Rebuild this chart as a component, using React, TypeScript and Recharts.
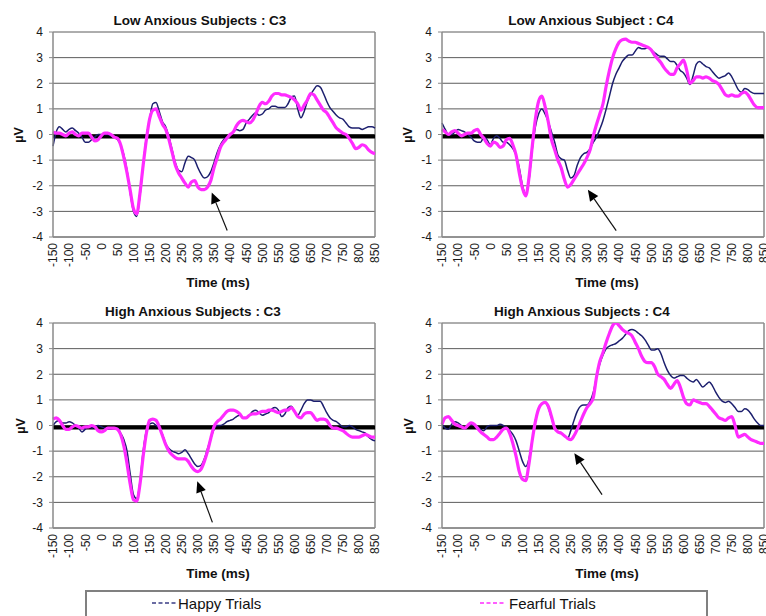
import { LineChart, Line, XAxis, YAxis, CartesianGrid, ReferenceLine } from "recharts"

// sampling grid of the ERP traces (ms)
const TIME_MS = Array.from({ length: 101 }, (_, i) => -150 + i * 10)
const X_TICKS = [-150, -100, -50, 0, 50, 100, 150, 200, 250, 300, 350, 400, 450, 500, 550, 600, 650, 700, 750, 800, 850]
const Y_TICKS = [-4, -3, -2, -1, 0, 1, 2, 3, 4]

const LOW_C3_HAPPY = [
  -0.45, 0.1, 0.3, 0.2, 0.1, 0.2, 0.25, 0.15, 0.05, -0.1,
  -0.3, -0.3, -0.2, -0.1, 0.0, 0.0, 0.0, 0.0, -0.05, -0.1,
  -0.2, -0.4, -0.8, -1.4, -2.3, -3.0, -3.2, -2.4, -1.2, -0.1,
  0.6, 1.2, 1.25, 0.9, 0.5, 0.3, -0.1, -0.6, -1.1, -1.4,
  -1.45, -1.1, -0.85, -0.9, -1.0, -1.3, -1.55, -1.7, -1.65, -1.45,
  -1.1, -0.7, -0.4, -0.2, -0.1, 0.0, 0.1, 0.2, 0.15, 0.2,
  0.45, 0.6, 0.75, 0.85, 0.75, 0.8, 0.95, 1.0, 1.1, 1.1,
  1.05, 1.05, 1.05, 1.2, 1.45, 1.5, 1.0, 0.65, 0.9, 1.3,
  1.55, 1.75, 1.9, 1.85, 1.6, 1.3, 1.05, 0.9, 0.75, 0.65,
  0.6, 0.45, 0.3, 0.25, 0.25, 0.25, 0.2, 0.25, 0.3, 0.3,
  0.25,
]
const LOW_C3_FEARFUL = [
  0.1, 0.05, 0.05, 0.0, -0.05, 0.05, 0.1, 0.0, -0.05, 0.05,
  0.05, 0.05, -0.1, -0.25, -0.2, -0.05, 0.05, 0.05, 0.0, -0.1,
  -0.15, -0.4, -0.9, -1.5, -2.2, -2.9, -3.1, -2.3, -1.2, -0.2,
  0.6, 0.95, 1.0, 0.7, 0.4, 0.2, -0.2, -0.7, -1.2, -1.5,
  -1.7, -1.9, -2.05, -1.85, -1.8, -2.05, -2.15, -2.15, -2.05, -1.8,
  -1.3, -0.9, -0.5, -0.3, -0.15, 0.0, 0.1, 0.35, 0.5, 0.55,
  0.5, 0.45, 0.55, 0.8, 1.1, 1.25, 1.2, 1.3, 1.5, 1.6,
  1.6, 1.55, 1.55, 1.5, 1.45, 1.35, 1.2, 0.95, 1.15, 1.35,
  1.6, 1.55, 1.35, 1.15, 0.95, 0.85, 0.65, 0.45, 0.25, 0.15,
  0.05, 0.0, -0.15, -0.35, -0.55, -0.5, -0.4, -0.45, -0.6, -0.7,
  -0.75,
]
const LOW_C4_HAPPY = [
  0.45, 0.2, 0.0, 0.0, 0.1, 0.2, 0.15, 0.1, 0.0, -0.1,
  -0.25, -0.3, -0.3, -0.1, -0.2, -0.4, -0.15, -0.05, -0.15, -0.3,
  -0.3, -0.4, -0.55, -0.8, -1.3, -2.0, -2.3, -1.8, -0.6, 0.3,
  0.8, 1.0, 0.8, 0.5, 0.1, -0.3, -0.8, -0.95, -1.0, -1.4,
  -1.7, -1.6, -1.2, -0.9, -0.75, -0.7, -0.55, -0.3, -0.1, 0.2,
  0.55, 1.0, 1.5, 2.0, 2.35, 2.6, 2.85, 3.0, 3.1, 3.1,
  3.25, 3.4, 3.35, 3.35, 3.4, 3.3, 3.2, 3.1, 3.05, 3.05,
  2.95, 2.85, 2.85, 2.7, 2.5, 2.4, 2.2, 1.95, 2.3, 2.75,
  2.85, 2.75, 2.65, 2.6, 2.45, 2.3, 2.2, 2.25, 2.3, 2.4,
  2.25, 2.0, 1.75, 1.65, 1.8, 1.75, 1.65, 1.6, 1.6, 1.6,
  1.6,
]
const LOW_C4_FEARFUL = [
  0.2, 0.1, 0.0, 0.1, 0.15, 0.05, -0.05, 0.0, 0.05, 0.05,
  0.15, 0.2, 0.0, -0.15, -0.35, -0.45, -0.3, -0.35, -0.5, -0.45,
  -0.2, -0.15, -0.4, -0.8, -1.5, -2.1, -2.4, -1.7, -0.5, 0.6,
  1.3, 1.5, 1.1, 0.5, -0.2, -0.6, -1.0, -1.3, -1.75, -2.05,
  -1.95, -1.75, -1.55, -1.35, -1.15, -0.9, -0.6, -0.05, 0.4, 0.8,
  1.2, 1.9, 2.5, 3.0, 3.35, 3.6, 3.7, 3.72, 3.65, 3.6,
  3.6, 3.55, 3.5, 3.45, 3.4, 3.3, 3.1, 2.95, 2.8, 2.6,
  2.45, 2.35, 2.35, 2.6, 2.75, 2.9, 2.5, 2.0, 2.1, 2.25,
  2.25, 2.2, 2.25, 2.2, 2.1, 2.05, 1.95, 1.75, 1.55, 1.5,
  1.55, 1.5, 1.5, 1.6, 1.65, 1.55, 1.35, 1.15, 1.05, 1.05,
  1.05,
]
const HIGH_C3_HAPPY = [
  0.0, 0.15, 0.2, 0.1, 0.1, 0.15, 0.1, 0.0, -0.1, -0.25,
  -0.15, -0.05, -0.1, -0.05, 0.0, -0.05, -0.1, -0.15, -0.15, -0.1,
  -0.1, -0.3, -0.55, -1.0, -1.9, -2.7, -2.85, -2.2, -1.0, -0.2,
  0.05, 0.1, 0.0, -0.1, -0.35, -0.7, -0.9, -1.0, -1.05, -1.1,
  -1.05, -0.95, -1.1, -1.3, -1.5, -1.6, -1.55, -1.3, -0.9, -0.5,
  -0.15, 0.0, 0.0, 0.05, 0.15, 0.2, 0.25, 0.35, 0.4, 0.3,
  0.3, 0.4, 0.55, 0.6, 0.5, 0.4, 0.45, 0.5, 0.65, 0.7,
  0.6, 0.35, 0.45, 0.7, 0.75, 0.55, 0.4, 0.6, 0.85, 1.0,
  1.0, 0.95, 0.95, 0.95, 0.75, 0.5, 0.3, 0.2, 0.15, 0.05,
  -0.05, -0.05, 0.0, -0.05, -0.15, -0.2, -0.25, -0.3, -0.45, -0.55,
  -0.6,
]
const HIGH_C3_FEARFUL = [
  0.25, 0.3, 0.2, 0.0, -0.15, -0.15, -0.05, 0.0, -0.05, -0.1,
  -0.05, -0.05, 0.0, -0.05, -0.2, -0.25, -0.2, -0.1, -0.1, -0.1,
  -0.15, -0.35, -0.8, -1.5, -2.3, -2.9, -2.95, -2.3, -1.2, -0.3,
  0.2, 0.25, 0.2, -0.05, -0.4, -0.75, -1.0, -1.15, -1.25, -1.3,
  -1.3, -1.3, -1.4, -1.6, -1.75, -1.8, -1.7, -1.4, -1.0, -0.5,
  -0.05, 0.15, 0.25, 0.4, 0.55, 0.6, 0.6, 0.55, 0.45, 0.3,
  0.3, 0.4, 0.45, 0.45, 0.5, 0.55, 0.55, 0.6, 0.6, 0.55,
  0.5, 0.55, 0.6, 0.6, 0.7, 0.55, 0.35, 0.3, 0.45, 0.5,
  0.5, 0.35, 0.2, 0.25, 0.25, 0.2, 0.0, -0.1, -0.1, -0.15,
  -0.2, -0.3, -0.4, -0.45, -0.45, -0.45, -0.4, -0.35, -0.4, -0.45,
  -0.45,
]
const HIGH_C4_HAPPY = [
  0.05, -0.1, -0.15, 0.05, 0.15, 0.1, 0.0, -0.1, 0.0, 0.05,
  0.0, -0.05, -0.15, -0.2, -0.05, 0.0, 0.0, 0.0, 0.05, 0.0,
  -0.1, -0.2, -0.35, -0.6, -1.0, -1.4, -1.6, -1.3, -0.6, 0.2,
  0.65, 0.85, 0.9, 0.7, 0.3, -0.1, -0.25, -0.3, -0.4, -0.5,
  -0.2, 0.2, 0.55, 0.75, 0.8, 0.8, 0.95, 1.3, 1.9, 2.4,
  2.75, 3.0, 3.1, 3.15, 3.2, 3.3, 3.4, 3.55, 3.7, 3.75,
  3.7, 3.6, 3.5, 3.35, 3.15, 2.95, 2.95, 3.0, 2.8, 2.45,
  2.15, 1.95, 1.85, 1.9, 1.95, 1.95, 1.85, 1.75, 1.7, 1.8,
  1.65, 1.5, 1.6, 1.7, 1.55, 1.3, 1.1, 0.95, 0.9, 0.95,
  0.85, 0.7, 0.55, 0.55, 0.65, 0.6, 0.45, 0.25, 0.1, 0.0,
  0.0,
]
const HIGH_C4_FEARFUL = [
  0.05, 0.3, 0.35, 0.2, 0.05, 0.0, -0.05, -0.1, 0.0, 0.1,
  0.05, -0.1, -0.25, -0.35, -0.45, -0.55, -0.55, -0.45, -0.3, -0.15,
  -0.1, -0.3, -0.7, -1.2, -1.8, -2.1, -2.15, -1.5, -0.6, 0.15,
  0.65, 0.85, 0.9, 0.75, 0.35, -0.1, -0.25, -0.3, -0.4, -0.5,
  -0.55, -0.4, -0.15, 0.15, 0.45, 0.7, 0.85, 1.1, 1.9, 2.5,
  2.85, 3.25, 3.6, 3.9, 4.0, 3.9, 3.75, 3.65, 3.6, 3.5,
  3.25, 3.0, 2.7, 2.5, 2.45, 2.45, 2.3, 2.0, 1.9, 1.8,
  1.6, 1.45, 1.6, 1.75, 1.5, 1.1, 0.85, 0.8, 1.0, 0.95,
  0.9, 0.85, 0.85, 0.75, 0.6, 0.45, 0.3, 0.25, 0.2, 0.3,
  0.35, 0.0, -0.45, -0.4, -0.35, -0.45, -0.55, -0.6, -0.65, -0.7,
  -0.7,
]

// annotation arrows: [tail, tip] in (ms, µV)
const ARROW_LOW_C3 = [{ x: 391, y: -3.75 }, { x: 343, y: -2.26 }]
const ARROW_LOW_C4 = [{ x: 391, y: -3.75 }, { x: 303, y: -2.16 }]
const ARROW_HIGH_C3 = [{ x: 345, y: -3.78 }, { x: 298, y: -2.18 }]
const ARROW_HIGH_C4 = [{ x: 347, y: -2.7 }, { x: 261, y: -1.08 }]

const FONT = '"Liberation Sans", Arial, Helvetica, sans-serif'
const HAPPY_COLOR = "#1c1f6e"
const FEARFUL_COLOR = "#ff2bff"
const GRID = "#5c5c5c"
const BORDER = "#8a8a8a"

const PANELS = [
  { title: "Low Anxious Subjects : C3", happy: LOW_C3_HAPPY, fearful: LOW_C3_FEARFUL, arrow: ARROW_LOW_C3,
    left: 0, top: 0, yw: 53, mr: 8, titleX: 200, timeX: 218, uvX: 19 },
  { title: "Low Anxious Subject : C4", happy: LOW_C4_HAPPY, fearful: LOW_C4_FEARFUL, arrow: ARROW_LOW_C4,
    left: 383, top: 0, yw: 59, mr: 2, titleX: 591, timeX: 607, uvX: 408 },
  { title: "High Anxious Subjects : C3", happy: HIGH_C3_HAPPY, fearful: HIGH_C3_FEARFUL, arrow: ARROW_HIGH_C3,
    left: 0, top: 291, yw: 53, mr: 8, titleX: 193, timeX: 218, uvX: 21 },
  { title: "High Anxious Subjects : C4", happy: HIGH_C4_HAPPY, fearful: HIGH_C4_FEARFUL, arrow: ARROW_HIGH_C4,
    left: 383, top: 291, yw: 59, mr: 2, titleX: 582, timeX: 607, uvX: 409 },
]

const CHART_W = 383
const CHART_H = 290
const PLOT_TOP = 32
const X_AXIS_H = 53

function TimeTick(props: any) {
  const { x, y, payload } = props
  return (
    <text x={x} y={y} transform={`rotate(-90 ${x} ${y})`} textAnchor="end" dy="0.36em"
      fontSize={12} fill="#1a1a1a" fontFamily={FONT}>
      {payload.value}
    </text>
  )
}

// Excel draws the category axis as a heavy bar sitting just under the 0 gridline
function ZeroBar(p: any) {
  return <line x1={p.x1} y1={p.y1 + 2} x2={p.x2} y2={p.y2 + 2} stroke="#000" strokeWidth={4} />
}

function Arrow(p: any) {
  const { x1, y1, x2, y2 } = p
  const a = Math.atan2(y2 - y1, x2 - x1)
  const len = 11
  const half = 5
  const bx = x2 - len * Math.cos(a)
  const by = y2 - len * Math.sin(a)
  const pts = [
    `${x2},${y2}`,
    `${bx - half * Math.sin(a)},${by + half * Math.cos(a)}`,
    `${bx + half * Math.sin(a)},${by - half * Math.cos(a)}`,
  ].join(" ")
  return (
    <g>
      <line x1={x1} y1={y1} x2={bx} y2={by} stroke="#111" strokeWidth={1.2} />
      <polygon points={pts} fill="#000" />
    </g>
  )
}

function Panel({ p }: { p: (typeof PANELS)[number] }) {
  const data = TIME_MS.map((t, i) => ({ t, happy: p.happy[i], fearful: p.fearful[i] }))
  const zeroY = p.top + PLOT_TOP + (CHART_H - PLOT_TOP - X_AXIS_H) / 2
  const textBase = { position: "absolute" as const, fontFamily: FONT, color: "#111", whiteSpace: "nowrap" as const }
  return (
    <>
      <div style={{ position: "absolute", left: p.left, top: p.top }}>
        <LineChart width={CHART_W} height={CHART_H} data={data}
          margin={{ top: PLOT_TOP, right: p.mr, bottom: 0, left: 0 }}>
          <CartesianGrid vertical={false} stroke={GRID} strokeWidth={1} />
          <XAxis dataKey="t" type="number" domain={[-150, 850]} ticks={X_TICKS} interval={0}
            height={X_AXIS_H} tickLine={false} tickSize={4} tickMargin={2}
            axisLine={{ stroke: BORDER, strokeWidth: 1.5 }} tick={<TimeTick />} />
          <YAxis type="number" domain={[-4, 4]} ticks={Y_TICKS} width={p.yw} allowDataOverflow
            tickSize={4} tickMargin={6} axisLine={{ stroke: BORDER, strokeWidth: 1.5 }}
            tickLine={{ stroke: BORDER }}
            tick={{ fontSize: 12, fill: "#1a1a1a", fontFamily: FONT }} />
          <ReferenceLine x={850} stroke={BORDER} strokeWidth={1.5} />
          <ReferenceLine y={0} shape={ZeroBar} />
          <Line dataKey="happy" type="monotone" stroke={HAPPY_COLOR} strokeWidth={1.5}
            dot={false} isAnimationActive={false} />
          <Line dataKey="fearful" type="monotone" stroke={FEARFUL_COLOR} strokeWidth={3.2}
            dot={false} isAnimationActive={false} />
          <ReferenceLine segment={p.arrow} shape={Arrow} ifOverflow="visible" />
        </LineChart>
      </div>
      <div style={{ ...textBase, left: p.titleX, top: p.top + 20, transform: "translate(-50%, -50%)",
        fontSize: 13.5, fontWeight: "bold" }}>{p.title}</div>
      <div style={{ ...textBase, left: p.timeX, top: p.top + 282, transform: "translate(-50%, -50%)",
        fontSize: 13.5, fontWeight: "bold" }}>Time (ms)</div>
      <div style={{ ...textBase, left: p.uvX, top: zeroY, transform: "translate(-50%, -50%) rotate(-90deg)",
        fontSize: 12.5, fontWeight: "bold" }}>µV</div>
    </>
  )
}

function Dash({ color }: { color: string }) {
  return (
    <svg width={24} height={4} style={{ display: "block" }}>
      <line x1={0} y1={2} x2={24} y2={2} stroke={color} strokeWidth={1.5} strokeDasharray="4 2.5" />
    </svg>
  )
}

export default function App() {
  const legendText = { position: "absolute" as const, fontFamily: FONT, fontSize: 15, color: "#111",
    top: 603, transform: "translateY(-50%)", whiteSpace: "nowrap" as const }
  return (
    <div style={{ position: "absolute", left: 0, top: 0, width: 766, height: 616, overflow: "hidden",
      background: "#fff" }}>
      {PANELS.map((p) => <Panel key={p.title} p={p} />)}
      <div style={{ position: "absolute", left: 85, top: 590, width: 619, height: 40,
        border: "2px solid #808080" }} />
      <div style={{ position: "absolute", left: 152, top: 601 }}><Dash color="#3a3d85" /></div>
      <div style={{ ...legendText, left: 178 }}>Happy Trials</div>
      <div style={{ position: "absolute", left: 480, top: 601 }}><Dash color={FEARFUL_COLOR} /></div>
      <div style={{ ...legendText, left: 509 }}>Fearful Trials</div>
    </div>
  )
}
